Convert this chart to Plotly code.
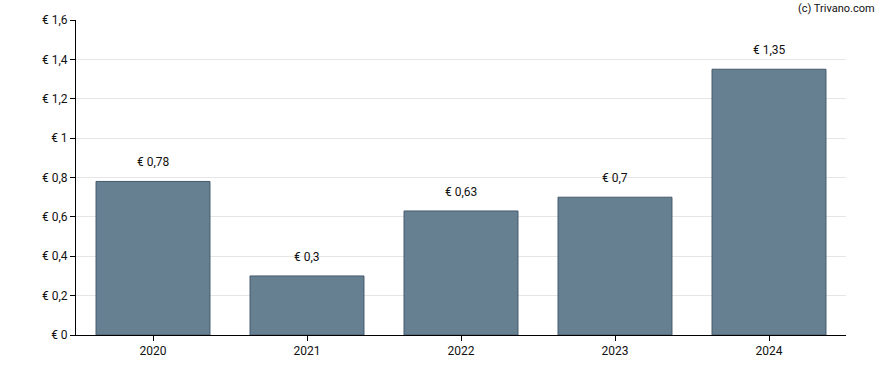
import plotly.graph_objects as go

years = ["2020", "2021", "2022", "2023", "2024"]
values = [0.78, 0.3, 0.63, 0.7, 1.35]
labels = ["€ 0,78", "€ 0,3", "€ 0,63", "€ 0,7", "€ 1,35"]
yticks = [0, 0.2, 0.4, 0.6, 0.8, 1.0, 1.2, 1.4, 1.6]
ytick_text = ["€ 0", "€ 0,2", "€ 0,4", "€ 0,6", "€ 0,8", "€ 1", "€ 1,2", "€ 1,4", "€ 1,6"]

fig = go.Figure()
fig.add_trace(go.Bar(
    x=years, y=values,
    marker=dict(color="rgb(102,128,145)", line=dict(color="rgb(68,90,110)", width=1)),
    hoverinfo="skip",
))

for i, (v, t) in enumerate(zip(values, labels)):
    fig.add_annotation(x=i, y=v, xref="x", yref="y", text=t, showarrow=False, yshift=19,
                       font=dict(family="Roboto", size=12, color="#111"))

fig.add_annotation(xref="paper", yref="paper", x=1.04, y=1.0, yshift=12,
                   xanchor="right", yanchor="middle", text="(c) Trivano.com",
                   showarrow=False, font=dict(family="Roboto", size=11, color="#111"))

fig.update_layout(
    width=888, height=370,
    margin=dict(l=76, r=42, t=20, b=35),
    paper_bgcolor="white", plot_bgcolor="white",
    bargap=0.26,
    showlegend=False,
    font=dict(family="Roboto", size=12, color="#111"),
)
fig.update_yaxes(
    range=[0, 1.6], tickmode="array", tickvals=yticks, ticktext=ytick_text,
    showgrid=True, gridcolor="#e6e6e6", gridwidth=1,
    showline=True, linecolor="black", linewidth=1,
    ticks="outside", ticklen=5, tickcolor="black",
    zeroline=False, automargin=False,
)
fig.update_xaxes(
    type="category", categoryorder="array", categoryarray=years,
    range=[-0.5, len(years) - 0.5],
    showline=True, linecolor="black", linewidth=1,
    ticks="outside", ticklen=5, tickcolor="black",
    showgrid=False, automargin=False,
)

fig.write_html("out.html", config={"displayModeBar": False},
               post_script="document.body.style.margin='0';")
